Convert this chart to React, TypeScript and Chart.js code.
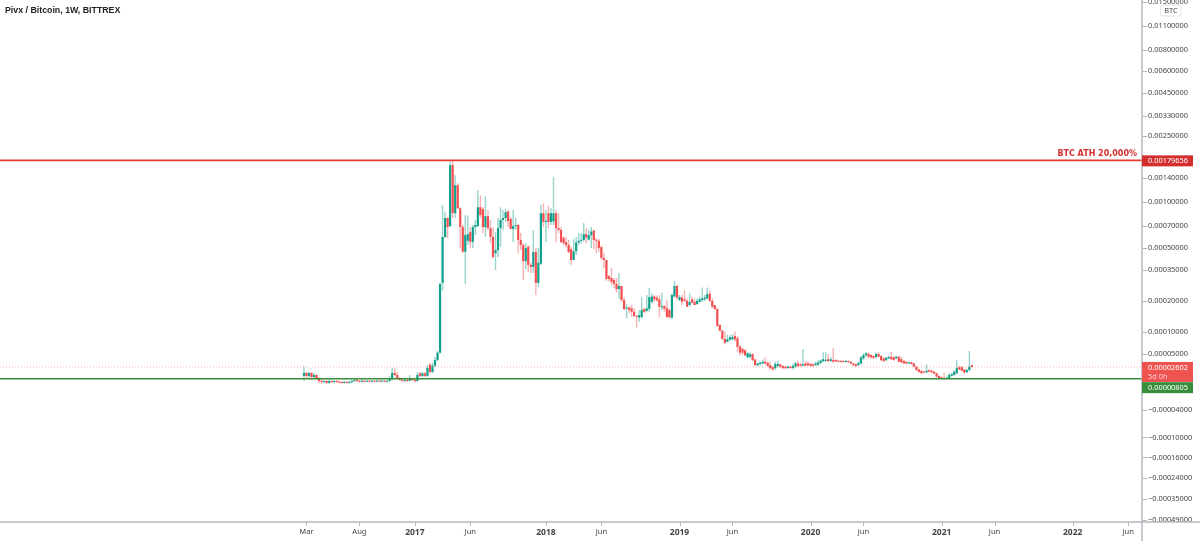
import React, { useEffect, useRef } from 'react';
import { Chart, LinearScale, registerables } from 'chart.js';

// all prices are in µBTC (1e-6 BTC), one entry per weekly candle
const opens = [
  12, 16.5, 12, 16.5, 10.5, 13.4, 9, 4.8, 3.4, 4.8, 2.1, 4.8, 3.4, 4.8, 3.4, 2.8, 2.1, 3.4, 2.1, 3.4,
  4.8, 6.2, 5, 3.8, 4.8, 3.8, 5.2, 3.8, 5.2, 4, 5, 4, 4.8, 3.8, 5, 9, 16.5, 13.4, 9, 6.2,
  5, 6, 5, 8, 6.2, 4.8, 16, 12, 16, 12, 30, 18, 28, 38, 52, 280, 594, 790, 700, 1681,
  848, 1269, 912, 690, 472, 560, 640, 550, 690, 700, 925, 900, 690, 812, 680, 594, 460, 484, 680, 767,
  790, 870, 780, 670, 700, 712, 567, 525, 405, 510, 381, 368, 470, 280, 388, 848, 745, 848, 745, 750,
  848, 680, 661, 585, 550, 525, 490, 413, 475, 545, 560, 567, 620, 570, 610, 655, 567, 560, 510, 427,
  413, 315, 305, 295, 275, 250, 265, 203, 172, 175, 172, 160, 146, 141, 143, 170, 163, 170, 196, 218,
  213, 206, 176, 180, 172, 166, 141, 218, 265, 203, 213, 206, 200, 184, 206, 196, 188, 196, 203, 206,
  210, 230, 200, 184, 170, 119, 103, 82, 75, 80, 81, 89, 84, 65, 60, 57, 43, 44, 49, 39,
  29, 31, 32, 35, 33, 29, 25.5, 24, 27.7, 30.5, 27.7, 26.5, 24.4, 26.5, 24.4, 26.5, 32, 30.5, 28, 32,
  32, 31, 30.5, 29, 30, 33, 36, 36.5, 39.5, 36.5, 38, 38, 36.5, 36, 36, 34.5, 36, 35, 32, 30.5,
  29, 32, 41, 47, 49.4, 47.4, 45.5, 44, 49.4, 45.5, 41, 38, 41, 44, 43, 41, 44, 39.5, 36.5, 35,
  32, 34, 32, 26.5, 22, 19.6, 18.5, 17.5, 21, 20, 18.5, 16, 12, 10, 8.5, 7.6, 8.5, 12, 13.4, 16,
  25.5, 25.5, 22, 17.5, 21, 29,
];
const highs = [
  26, 18, 18, 18, 16.5, 15, 10.5, 7.6, 6.2, 6.2, 8, 6.2, 6.2, 6.2, 4.8, 4, 4.8, 4.8, 5.5, 6.2,
  7.6, 7.6, 6.2, 8.5, 6.2, 6.2, 6.2, 6.2, 6.2, 6.2, 6.2, 6.2, 6.2, 6.2, 12, 24.4, 24.4, 18, 10.5, 7.6,
  7.6, 7.6, 13.4, 9, 7.6, 18, 18, 18, 18, 29, 33, 33, 44, 56, 280, 954, 860, 800, 1770, 1796,
  1461, 1305, 925, 712, 824, 824, 690, 712, 767, 1181, 1101, 925, 1085, 887, 767, 690, 640, 790, 925, 887,
  900, 887, 800, 887, 790, 725, 630, 540, 540, 525, 395, 661, 500, 500, 954, 980, 887, 940, 912, 1420,
  887, 848, 690, 603, 594, 567, 510, 575, 594, 630, 630, 733, 680, 661, 690, 661, 585, 575, 510, 460,
  413, 321, 362, 305, 305, 332, 265, 215, 188, 180, 184, 172, 149, 166, 215, 172, 224, 255, 232, 224,
  222, 224, 235, 184, 203, 172, 232, 290, 270, 224, 224, 246, 210, 230, 218, 210, 210, 216, 258, 224,
  258, 243, 210, 184, 172, 119, 105, 101, 92, 92, 94, 101, 88, 68, 62, 59, 53, 53, 51, 40,
  33, 36, 39, 43, 36, 35, 27.7, 35, 37, 32, 29, 27.7, 28, 28, 32, 35, 37, 33, 59.5, 36,
  36, 33, 32, 35, 38, 39, 53, 53, 49, 44, 61, 40, 38, 37.5, 38, 38, 37.5, 36, 33, 32,
  35, 45.5, 51, 53, 53, 49, 47, 53, 53, 47, 43, 44, 45.5, 53, 45, 46, 46, 44, 38, 36,
  35, 35, 33, 27, 23, 21, 19.6, 30.5, 22, 21, 19.6, 17, 13, 11, 17, 11, 16, 16, 21, 38,
  28, 27, 23, 23, 55.3, 30,
];
const lows = [
  4.8, 7.6, 9, 6.2, 7.6, 6.2, 2.1, 1, 2.1, 1, 1.5, 2.1, 2.1, 2.1, 1.5, 1.2, 1.2, 1.2, 1.4, 2.1,
  3.4, 3.4, 2.4, 2.8, 2.4, 3, 2.8, 3, 3, 3, 3, 3, 2.8, 2.8, 3.4, 5, 12, 7.6, 5, 3.4,
  2.8, 3.4, 4.8, 4.8, 2.4, 3.8, 10.5, 10.5, 10.5, 10.5, 15, 16, 26, 36, 50, 241, 585, 585, 690, 790,
  790, 900, 500, 465, 275, 525, 500, 500, 612, 690, 790, 630, 594, 661, 540, 427, 350, 433, 510, 661,
  745, 690, 680, 550, 661, 460, 484, 295, 356, 338, 332, 332, 224, 260, 381, 690, 550, 680, 712, 712,
  550, 630, 540, 525, 500, 460, 381, 413, 447, 525, 540, 552, 540, 560, 500, 490, 460, 470, 413, 362,
  290, 285, 270, 255, 235, 207, 196, 166, 138, 155, 143, 143, 111, 128, 138, 156, 160, 160, 190, 196,
  197, 143, 166, 160, 141, 140, 137, 213, 206, 200, 184, 196, 178, 178, 190, 184, 184, 193, 196, 200,
  206, 196, 172, 166, 114, 101, 80, 70, 76, 78, 78, 76, 54, 47, 48, 45, 41, 41, 35, 27.7,
  27, 28, 30.5, 30, 26.5, 22, 20, 21, 25.5, 24, 23, 22, 23, 23, 22, 24, 25.5, 26.5, 27, 27.7,
  27.7, 26.5, 26.5, 27.7, 27.7, 30.5, 34, 35, 34, 34.6, 33, 34, 34, 33.5, 33.5, 33.5, 33, 31, 28, 25.5,
  27.7, 30.5, 38, 44, 41, 41, 40.5, 41, 43, 36, 35, 35, 39.5, 38, 36.5, 40, 34, 33, 31, 31,
  31, 30, 25.5, 20, 17, 15, 16, 16, 17.5, 16.5, 15, 10, 7, 7, 7, 7, 7.8, 11, 12.5, 15,
  21, 19, 15.5, 16.5, 19, 25,
];
const closes = [
  16.5, 12, 16.5, 10.5, 13.4, 9, 4.8, 3.4, 4.8, 2.1, 4.8, 3.4, 4.8, 3.4, 2.8, 2.1, 3.4, 2.1, 3.4, 4.8,
  6.2, 5, 3.8, 4.8, 3.8, 5.2, 3.8, 5.2, 4, 5, 4, 4.8, 3.8, 5, 9, 16.5, 13.4, 9, 6.2, 5,
  6, 5, 8, 6.2, 4.8, 13.4, 12, 16, 12, 24.4, 18, 28, 38, 52, 275, 594, 790, 690, 1681, 848,
  1269, 912, 690, 472, 612, 620, 550, 690, 712, 925, 824, 690, 812, 680, 594, 433, 484, 680, 767, 790,
  860, 755, 670, 700, 712, 567, 525, 405, 500, 381, 368, 470, 280, 395, 848, 745, 755, 745, 848, 848,
  680, 661, 550, 540, 525, 470, 413, 475, 545, 560, 567, 620, 590, 610, 645, 567, 560, 500, 427, 413,
  300, 300, 285, 275, 250, 265, 203, 169, 175, 166, 160, 146, 143, 149, 166, 160, 172, 215, 218, 206,
  203, 178, 180, 170, 143, 141, 224, 265, 213, 215, 196, 200, 178, 196, 193, 184, 200, 206, 210, 213,
  228, 200, 178, 170, 116, 103, 82, 73, 81, 86, 87, 81, 64, 52, 52, 47, 51, 49, 38, 29,
  32, 33, 35, 32, 27.7, 24, 22, 31, 31, 26.5, 24, 24, 26.5, 24.4, 27.7, 32, 27.7, 28, 30.5, 28,
  29, 27.7, 28, 32, 34, 37, 39.5, 38, 36, 39.5, 35, 35.5, 35, 34.5, 34.5, 36.5, 34, 32, 29, 27.7,
  33, 43, 47.4, 51, 44, 43, 42, 49.4, 44, 38, 36, 42.5, 44, 39.5, 38, 44, 35, 34, 32, 32,
  34, 31, 26.5, 21, 18, 16, 17, 20, 18.5, 17.5, 15.5, 11, 8, 7.6, 7.6, 9.5, 13.4, 14.5, 18.5, 24,
  22, 20, 17, 21, 26.5, 26.02,
];

const priceTicks = [
  15000, 11000, 8000, 6000, 4500, 3300, 2500, 1800, 1400, 1000, 700, 500, 350, 200, 100, 50,
  -40, -100, -160, -240, -350, -490,
];
const timeTickWeeks = [1, 22, 44, 66, 96, 118, 149, 170, 201, 222, 253, 274, 305, 327];
const timeTickLabels = ['Mar', 'Aug', '2017', 'Jun', '2018', 'Jun', '2019', 'Jun', '2020', 'Jun', '2021', 'Jun', '2022', 'Jun'];

const athLevel = 1796.56;
const lastPrice = 26.02;
const supportLevel = 8.05;

const UP = '#12a08c';
const DOWN = '#f44f50';
const TEXT = '#444';
const AXIS = '#b5b8c0';
const FONT = '"Noto Sans", sans-serif';

const fmt = (v: number) => {
  const s = (Math.abs(v) / 1e6).toFixed(8);
  return v < 0 ? '\u2212' + s : s;
};

// the price axis is log-like on both sides of zero
const warp = (v: number) => Math.sign(v) * Math.log(1 + Math.abs(v) / 100);
const unwarp = (t: number) => Math.sign(t) * 100 * (Math.exp(Math.abs(t)) - 1);

class SymLogScale extends LinearScale {
  static id = 'symlog';
  static defaults = LinearScale.defaults;
  getPixelForValue(value: number) {
    const lo = warp(this.min);
    const hi = warp(this.max);
    return this.getPixelForDecimal((warp(value) - lo) / (hi - lo));
  }
  getValueForPixel(pixel: number) {
    const lo = warp(this.min);
    const hi = warp(this.max);
    return unwarp(lo + this.getDecimalForPixel(pixel) * (hi - lo));
  }
}

Chart.register(...registerables, SymLogScale);

const tag = (ctx: CanvasRenderingContext2D, y: number, h: number, color: string) => {
  ctx.fillStyle = color;
  ctx.fillRect(1142, y, 51, h);
};

// keep the plot area fixed: labels must not push it inward
const noPadding = (s: any) => {
  s.paddingLeft = s.paddingRight = s.paddingTop = s.paddingBottom = 0;
};

const overlay = {
  id: 'overlay',
  afterDraw(chart: any) {
    const { ctx, scales } = chart;
    const py = (v: number) => scales.y.getPixelForValue(v);
    const right = chart.chartArea.right;
    ctx.save();

    ctx.strokeStyle = 'rgba(239,83,80,0.45)';
    ctx.lineWidth = 1;
    ctx.setLineDash([1, 2]);
    ctx.beginPath();
    ctx.moveTo(0, py(lastPrice));
    ctx.lineTo(right, py(lastPrice));
    ctx.stroke();
    ctx.setLineDash([]);

    ctx.strokeStyle = '#e53935';
    ctx.lineWidth = 1.7;
    ctx.beginPath();
    ctx.moveTo(0, py(athLevel));
    ctx.lineTo(right, py(athLevel));
    ctx.stroke();

    ctx.strokeStyle = '#388e3c';
    ctx.lineWidth = 1.5;
    ctx.beginPath();
    ctx.moveTo(0, py(supportLevel));
    ctx.lineTo(right, py(supportLevel));
    ctx.stroke();

    // axis frame runs to the window edge
    ctx.strokeStyle = AXIS;
    ctx.lineWidth = 1.5;
    ctx.beginPath();
    ctx.moveTo(right, 0);
    ctx.lineTo(right, 541);
    ctx.moveTo(0, 522);
    ctx.lineTo(1200, 522);
    ctx.stroke();

    ctx.textBaseline = 'middle';
    ctx.textAlign = 'left';
    ctx.font = `7.4px ${FONT}`;

    tag(ctx, py(athLevel) - 5, 11, '#d32f2f');
    tag(ctx, py(lastPrice) - 5, 20, '#ef5350');
    tag(ctx, py(supportLevel) + 3.5, 11, '#388e3c');

    ctx.fillStyle = '#fff';
    ctx.fillText(fmt(athLevel), 1148, py(athLevel) + 0.5);
    ctx.fillText(fmt(lastPrice), 1148, py(lastPrice) + 0.5);
    ctx.fillText(fmt(supportLevel), 1148, py(supportLevel) + 9);
    ctx.fillStyle = '#fbd0cf';
    ctx.fillText('5d 0h', 1148, py(lastPrice) + 9.5);

    ctx.fillStyle = '#d32f2f';
    ctx.font = 'bold 8px "DejaVu Sans", sans-serif';
    ctx.textAlign = 'right';
    ctx.fillText('BTC ATH 20,000%', 1137, 153.5);

    ctx.fillStyle = '#fff';
    ctx.strokeStyle = '#e0e3eb';
    ctx.lineWidth = 1;
    ctx.beginPath();
    ctx.roundRect(1160.5, 5, 20.5, 11, 2);
    ctx.fill();
    ctx.stroke();
    ctx.fillStyle = TEXT;
    ctx.font = `7.4px ${FONT}`;
    ctx.textAlign = 'center';
    ctx.fillText('BTC', 1171, 10.5);

    ctx.fillStyle = '#222';
    ctx.font = 'bold 8.8px "Liberation Sans", sans-serif';
    ctx.textAlign = 'left';
    ctx.fillText('Pivx / Bitcoin, 1W, BITTREX', 5, 10.5);
    ctx.restore();
  },
};

export default function App() {
  const canvasRef = useRef<HTMLCanvasElement | null>(null);

  useEffect(() => {
    if (!canvasRef.current) return;
    const colors = closes.map((c, i) => (c >= opens[i] ? UP : DOWN));
    const chart = new Chart(canvasRef.current, {
      type: 'bar',
      data: {
        datasets: [
          {
            label: 'body',
            data: closes.map((c, i) => ({ x: i, y: [opens[i], c] })),
            backgroundColor: colors,
            barThickness: 2.2,
            minBarLength: 1,
            grouped: false,
            inflateAmount: 0,
            order: 1,
          },
          {
            label: 'wick',
            data: highs.map((h, i) => ({ x: i, y: [lows[i], h] })),
            backgroundColor: colors.map((c) => c + '70'),
            barThickness: 1.4,
            grouped: false,
            inflateAmount: 0,
            order: 2,
          },
        ] as any,
      },
      options: {
        responsive: false,
        animation: false,
        events: [],
        layout: { padding: 0 },
        plugins: { legend: { display: false }, tooltip: { enabled: false } },
        scales: {
          x: {
            type: 'linear',
            offset: false,
            min: -120.6,
            max: 332.5,
            grid: { display: false, drawTicks: false, offset: false },
            border: { display: false },
            afterFit: (s: any) => {
              s.height = 19;
              noPadding(s);
            },
            afterBuildTicks: (s: any) => {
              s.ticks = timeTickWeeks.map((value, i) => ({ value, major: /^\d/.test(timeTickLabels[i]) }));
            },
            ticks: {
              autoSkip: false,
              maxRotation: 0,
              padding: 5,
              color: TEXT,
              font: (c: any) => ({ family: FONT, size: c.tick?.major ? 8.5 : 7.6, weight: c.tick?.major ? 'bold' : 'normal' }),
              callback: (v: any) => timeTickLabels[timeTickWeeks.indexOf(v)],
            },
          },
          y: {
            type: 'symlog',
            position: 'right',
            min: -507,
            max: 15456,
            grid: { display: false, drawTicks: false },
            border: { display: false },
            afterFit: (s: any) => {
              s.width = 58;
              noPadding(s);
            },
            afterBuildTicks: (s: any) => {
              s.ticks = priceTicks.map((value) => ({ value }));
            },
            ticks: {
              autoSkip: false,
              padding: 6,
              color: TEXT,
              font: { family: FONT, size: 7.4 },
              callback: (v: any) => fmt(v),
            },
          },
        } as any,
      },
      plugins: [
        overlay,
        {
          id: 'axisTicks',
          afterDraw(c: any) {
            const { ctx, scales } = c;
            ctx.save();
            ctx.strokeStyle = AXIS;
            ctx.lineWidth = 1;
            ctx.beginPath();
            scales.y.ticks.forEach((t: any) => {
              if (t.value === 1800) return;
              const y = Math.round(scales.y.getPixelForValue(t.value)) + 0.5;
              ctx.moveTo(1143, y);
              ctx.lineTo(1147, y);
            });
            scales.x.ticks.forEach((t: any) => {
              const x = Math.round(scales.x.getPixelForValue(t.value)) + 0.5;
              ctx.moveTo(x, 522);
              ctx.lineTo(x, 526);
            });
            ctx.stroke();
            ctx.restore();
          },
        },
      ] as any,
    });
    return () => chart.destroy();
  }, []);

  return (
    <div style={{ position: 'absolute', left: 0, top: 0, width: 1200, height: 541, background: '#fff' }}>
      <canvas ref={canvasRef} width={1200} height={541} style={{ display: 'block' }} />
    </div>
  );
}
